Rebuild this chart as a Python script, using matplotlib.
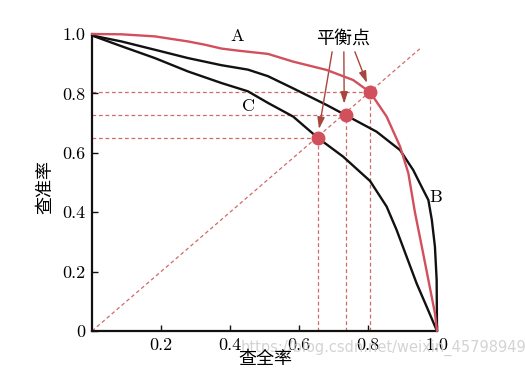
import matplotlib
matplotlib.use("Agg")
import matplotlib.pyplot as plt

# ---- data ----
a_x = [0, 0.085, 0.182, 0.278, 0.327, 0.375, 0.423, 0.51, 0.583, 0.68, 0.757, 0.806, 0.854, 0.893, 0.917, 0.936, 0.956, 0.975, 0.994, 1.0]
a_y = [1.0, 0.999, 0.992, 0.975, 0.964, 0.951, 0.944, 0.933, 0.907, 0.879, 0.845, 0.804, 0.722, 0.621, 0.531, 0.40, 0.284, 0.172, 0.06, 0.0]

b_x = [0, 0.085, 0.182, 0.278, 0.375, 0.452, 0.51, 0.583, 0.68, 0.735, 0.825, 0.893, 0.931, 0.96, 0.975, 0.985, 0.994, 0.999, 1.0]
b_y = [0.995, 0.975, 0.947, 0.919, 0.895, 0.88, 0.858, 0.817, 0.761, 0.727, 0.671, 0.609, 0.542, 0.475, 0.441, 0.374, 0.284, 0.172, 0.0]

c_x = [0, 0.085, 0.182, 0.278, 0.375, 0.452, 0.51, 0.583, 0.656, 0.728, 0.806, 0.854, 0.883, 0.912, 0.941, 0.97, 1.0]
c_y = [0.995, 0.959, 0.919, 0.874, 0.835, 0.807, 0.768, 0.722, 0.649, 0.587, 0.505, 0.419, 0.34, 0.25, 0.16, 0.082, 0.0]

bep_x = [0.656, 0.735, 0.806]
bep_y = [0.649, 0.727, 0.804]
diag_end = 0.95

curve_labels = ["A", "B", "C"]
curve_label_x = [0.42, 0.995, 0.455]
curve_label_y = [0.993, 0.45, 0.755]

xticks = [0.2, 0.4, 0.6, 0.8, 1.0]
xticklabels = ["0.2", "0.4", "0.6", "0.8", "1.0"]
yticks = [0, 0.2, 0.4, 0.6, 0.8, 1.0]
yticklabels = ["0", "0.2", "0.4", "0.6", "0.8", "1.0"]

arrow_start_x = [0.696, 0.730, 0.762]
arrow_start_y = [0.94, 0.94, 0.94]
arrow_end_x = [0.658, 0.731, 0.797]
arrow_end_y = [0.68, 0.765, 0.835]

xlabel = "查全率"
ylabel = "查准率"
bep_text = "平衡点"
watermark = "https://blog.csdn.net/weixin_45798949"

# ---- styling ----
RED = "#d24f5c"
DASH = "#d06a6a"
ARROW = "#a8463e"
CJK = ["Noto Sans CJK SC", "DejaVu Sans"]
SERIF = "cmr10"

fig = plt.figure(figsize=(5.25, 3.68), dpi=100)
ax = fig.add_axes([92/525, 1-331/368, (437-92)/525, (331-34)/368])
ax.set_xlim(0, 1)
ax.set_ylim(0, 1)

for s in ["top", "right"]:
    ax.spines[s].set_visible(False)
for s in ["left", "bottom"]:
    ax.spines[s].set_linewidth(1.6)
    ax.spines[s].set_color("#111111")

# diagonal and guide lines
ax.plot([0, diag_end], [0, diag_end], ls=(0, (3, 2.2)), color=DASH, lw=0.9, zorder=1)
for bx, by in zip(bep_x, bep_y):
    ax.plot([0, bx], [by, by], ls=(0, (3, 2.2)), color=DASH, lw=0.9, zorder=1)
    ax.plot([bx, bx], [0, by], ls=(0, (3, 2.2)), color=DASH, lw=0.9, zorder=1)

# curves
kw = dict(lw=1.7, solid_joinstyle="round", solid_capstyle="round", clip_on=False)
ax.plot(b_x, b_y, color="#111111", zorder=3, **kw)
ax.plot(c_x, c_y, color="#111111", zorder=3, **kw)
ax.plot(a_x, a_y, color=RED, zorder=4, **kw)

ax.plot(bep_x, bep_y, "o", color=RED, ms=9, zorder=5, mec=RED)

for t, x, y in zip(curve_labels, curve_label_x, curve_label_y):
    ax.text(x, y, t, family=SERIF, fontsize=13, ha="center", va="center", zorder=6)

ax.text(0.727, 0.985, bep_text, family=CJK, fontsize=13, ha="center", va="center")
for sx, sy, ex, ey in zip(arrow_start_x, arrow_start_y, arrow_end_x, arrow_end_y):
    ax.annotate("", xy=(ex, ey), xytext=(sx, sy),
                arrowprops=dict(arrowstyle="-|>,head_length=0.7,head_width=0.22",
                                color=ARROW, lw=1.0, shrinkA=0, shrinkB=0))

ax.set_xticks(xticks)
ax.set_xticklabels(xticklabels)
ax.set_yticks(yticks)
ax.set_yticklabels(yticklabels)
ax.tick_params(direction="in", length=4, width=1.0, color="#111111", labelsize=13, pad=5)
for lab in ax.get_xticklabels() + ax.get_yticklabels():
    lab.set_family(SERIF)

fig.text(45/525, 1-187/368, ylabel, family=CJK, fontsize=13, rotation=90, ha="center", va="center")
fig.text(265/525, 1-359/368, xlabel, family=CJK, fontsize=13, ha="center", va="center")
fig.text(383/525, 1-348/368, watermark, fontsize=10.5, color="#cccccc", ha="center", va="center", alpha=0.85, zorder=0)

fig.savefig("out.png", dpi=100)
